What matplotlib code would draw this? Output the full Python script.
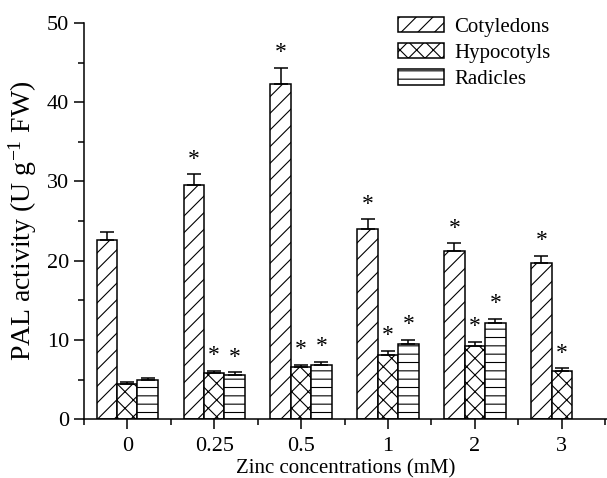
import matplotlib
matplotlib.use("Agg")
import matplotlib.pyplot as plt
import numpy as np

plt.rcParams['font.family'] = ['Liberation Serif', 'DejaVu Serif']
plt.rcParams['hatch.linewidth'] = 0.8
plt.rcParams['mathtext.fontset'] = 'stix'

concentrations = ["0", "0.25", "0.5", "1", "2", "3"]
series_names = ["Cotyledons", "Hypocotyls", "Radicles"]
cotyledons = [22.6, 29.5, 42.3, 24.0, 21.2, 19.7]
cotyledons_err = [1.0, 1.4, 2.0, 1.2, 1.0, 0.9]
hypocotyls = [4.4, 5.8, 6.6, 8.1, 9.3, 6.1]
hypocotyls_err = [0.3, 0.3, 0.3, 0.5, 0.5, 0.3]
radicles = [5.0, 5.6, 6.8, 9.5, 12.1, np.nan]
radicles_err = [0.2, 0.3, 0.4, 0.5, 0.6, np.nan]
# significance marks (True = asterisk)
cotyledons_sig = [False, True, True, True, True, True]
hypocotyls_sig = [False, True, True, True, True, True]
radicles_sig = [False, True, True, True, True, False]

values = [cotyledons, hypocotyls, radicles]
errors = [cotyledons_err, hypocotyls_err, radicles_err]
signif = [cotyledons_sig, hypocotyls_sig, radicles_sig]
hatches = ['//', 'xx', '--']

fig = plt.figure(figsize=(6.07, 4.78), dpi=100)
ax = fig.add_axes([0.138, 0.123, 0.862, 0.829])

x = np.arange(len(concentrations))
w = 0.235
for i in range(3):
    pos = x + (i - 1) * w
    v = np.array(values[i], dtype=float)
    e = np.array(errors[i], dtype=float)
    ax.bar(pos, v, width=w, color='white', edgecolor='black',
           hatch=hatches[i], linewidth=1.1, label=series_names[i])
    ax.errorbar(pos, v, yerr=[np.zeros_like(e), e], fmt='none',
                ecolor='black', elinewidth=1.1, capsize=5, capthick=1.1)
    for p, val, err, s in zip(pos, v, e, signif[i]):
        if s and not np.isnan(val):
            ax.text(p, val + err + 0.6, '*', ha='center', va='bottom',
                    fontsize=17)

ax.set_xlim(-0.5, 5.52)
ax.set_ylim(0, 50)
ax.set_xticks(x)
ax.set_xticklabels(concentrations)
ax.set_xticks(np.arange(-0.5, 6, 1), minor=True)
ax.set_yticks(np.arange(0, 51, 10))
ax.set_yticks(np.arange(5, 50, 10), minor=True)
ax.tick_params(axis='both', which='major', direction='out', length=7,
               width=1.1, labelsize=16)
ax.tick_params(axis='both', which='minor', direction='out', length=4,
               width=1.1)
ax.tick_params(axis='x', which='major', pad=6)
for s in ['top', 'right']:
    ax.spines[s].set_visible(False)
for s in ['left', 'bottom']:
    ax.spines[s].set_linewidth(1.1)

ax.set_ylabel('PAL activity (U g$^{\\mathregular{-1}}$ FW)', fontsize=20,
              labelpad=6)
ax.set_xlabel('Zinc concentrations (mM)', fontsize=15, labelpad=2)

leg = ax.legend(loc='upper left', bbox_to_anchor=(398 / 607, 1 - 17 / 478),
                bbox_transform=fig.transFigure, frameon=False,
                borderaxespad=0, borderpad=0,
                fontsize=15, handlelength=2.2, handleheight=0.75,
                labelspacing=0.3, handletextpad=0.5)

fig.savefig('out.png', dpi=100)
